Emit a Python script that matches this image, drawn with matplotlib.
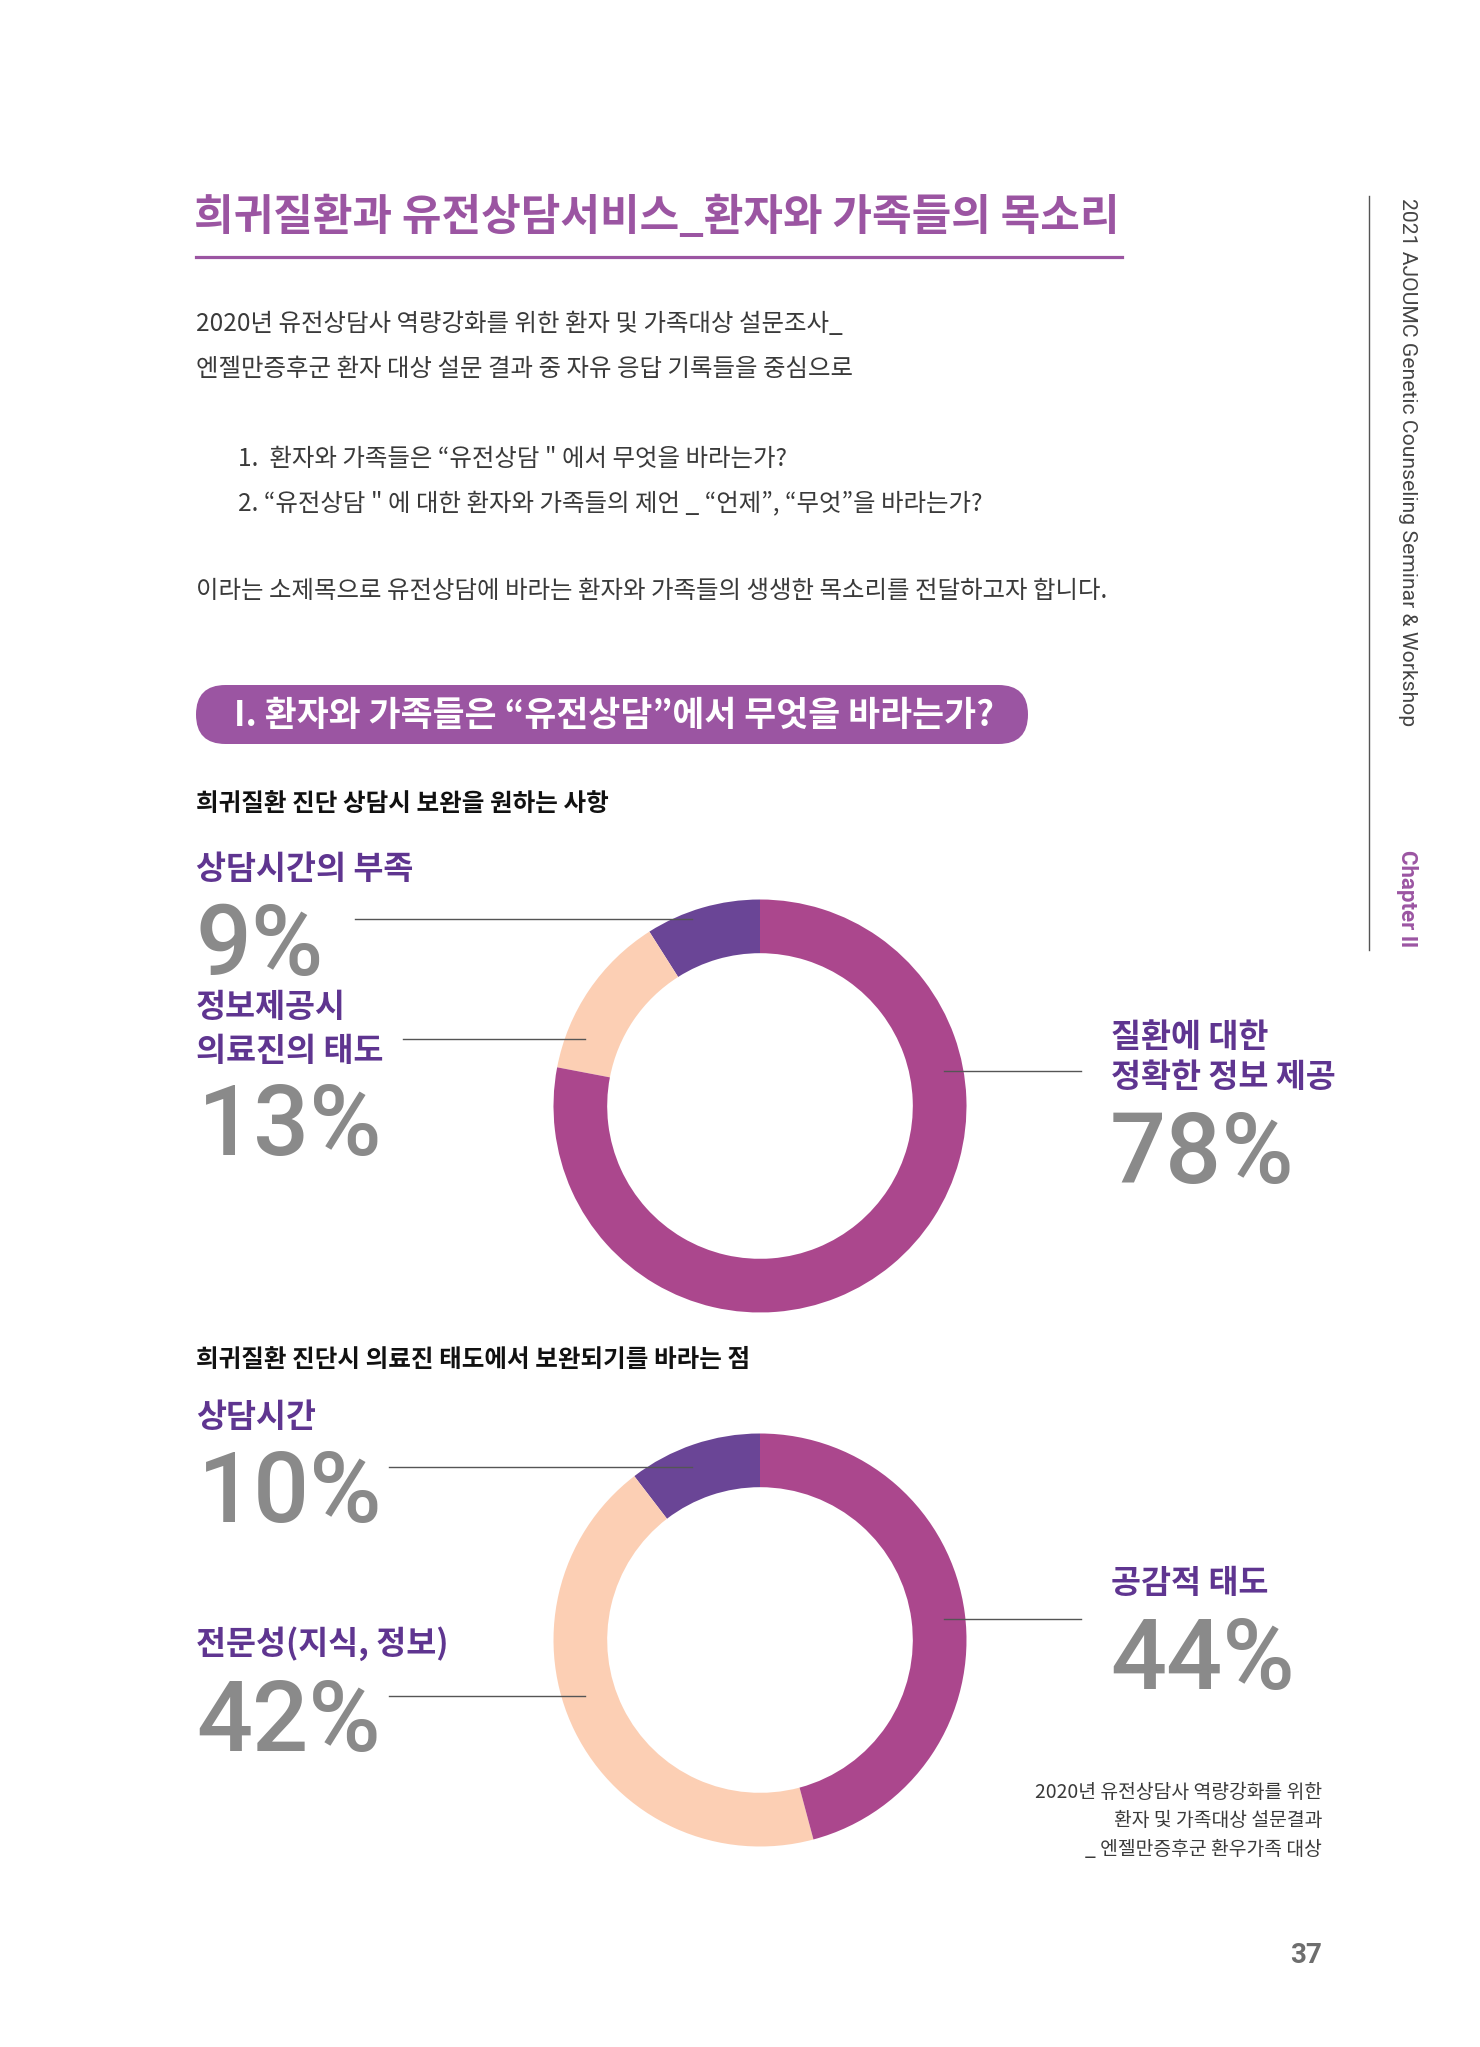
import matplotlib
matplotlib.use('Agg')
import matplotlib.pyplot as plt
from matplotlib.patches import FancyBboxPatch

plt.rcParams['font.family'] = ['Noto Sans CJK KR', 'DejaVu Sans']

# chart data
q1_title = '희귀질환 진단 상담시 보완을 원하는 사항'
q1_labels = ['상담시간의 부족', '정보제공시\n의료진의 태도', '질환에 대한\n정확한 정보 제공']
q1_values = [9, 13, 78]

q2_title = '희귀질환 진단시 의료진 태도에서 보완되기를 바라는 점'
q2_labels = ['상담시간', '전문성(지식, 정보)', '공감적 태도']
q2_values = [10, 42, 44]

ring_colors = ['#6a4596', '#fccfb4', '#ab478d']

page_title = '희귀질환과 유전상담서비스_환자와 가족들의 목소리'
intro_lines = ['2020년 유전상담사 역량강화를 위한 환자 및 가족대상 설문조사_',
               '엔젤만증후군 환자 대상 설문 결과 중 자유 응답 기록들을 중심으로']
item_lines = ['1.  환자와 가족들은 “유전상담 " 에서 무엇을 바라는가?',
              '2. “유전상담 " 에 대한 환자와 가족들의 제언 _ “언제”, “무엇”을 바라는가?']
outro_line = '이라는 소제목으로 유전상담에 바라는 환자와 가족들의 생생한 목소리를 전달하고자 합니다.'
section_title = 'I. 환자와 가족들은 “유전상담”에서 무엇을 바라는가?'
source_lines = ['2020년 유전상담사 역량강화를 위한', '환자 및 가족대상 설문결과', '_ 엔젤만증후군 환우가족 대상']
side_text = '2021 AJOUMC Genetic Counseling Seminar & Workshop'
chapter_text = 'Chapter Ⅱ'
page_no = '37'

W, H = 1480, 2047
fig = plt.figure(figsize=(W / 100, H / 100), dpi=100)

purple = '#9b55a2'
label_purple = '#5f3590'
pct_gray = '#8a8a8a'
body = '#3a3a3a'
pct_font = ['Roboto', 'DejaVu Sans']


def donut(cx, cy, r, values):
    ax = fig.add_axes([(cx - r) / W, (H - cy - r) / H, 2 * r / W, 2 * r / H])
    ax.pie(values, colors=ring_colors, startangle=90, counterclock=True,
           wedgeprops=dict(width=0.26, linewidth=0))
    ax.set_xlim(-1, 1)
    ax.set_ylim(-1, 1)
    ax.set_aspect('equal')
    ax.axis('off')
    return ax


donut(760, 1106, 206.5, q1_values)
donut(760, 1640, 206.5, q2_values)

# overlay in page pixel coordinates
ov = fig.add_axes([0, 0, 1, 1])
ov.set_xlim(0, W)
ov.set_ylim(H, 0)
ov.axis('off')
ov.patch.set_alpha(0)

# header
ov.text(194, 217, page_title, fontsize=31, color=purple, weight='bold', va='center')
ov.plot([196, 1122], [257, 257], color=purple, lw=2.3)

for i, s in enumerate(intro_lines):
    ov.text(196, 324 + 45 * i, s, fontsize=17.6, color=body, va='center')
for i, s in enumerate(item_lines):
    ov.text(238, 459 + 45 * i, s, fontsize=17.6, color=body, va='center')
ov.text(196, 591, outro_line, fontsize=17.6, color=body, va='center')

# section pill
ov.add_patch(FancyBboxPatch((196, 685), 832, 59, boxstyle='round,pad=0,rounding_size=29.5',
                            facecolor=purple, edgecolor='none'))
ov.text(234, 715, section_title, fontsize=25, color='white', weight='bold', va='center')

# side bar
ov.plot([1369, 1369], [196, 950], color='#555555', lw=1)
ov.text(1407, 198, side_text, rotation=-90, fontsize=15.2, color='#444444',
        family=['Roboto', 'DejaVu Sans'], ha='center', va='top')
ov.text(1407, 850, chapter_text, rotation=-90, fontsize=16, color=purple, weight='bold',
        family=['Roboto', 'Noto Sans CJK KR'], ha='center', va='top')


def label(x, y, text, step=43):
    for k, line in enumerate(text.split('\n')):
        ov.text(x, y + step * k, line, fontsize=23.5, color=label_purple, weight='bold', va='center')


def pct(x, y, v):
    ov.text(x, y, f'{v}%', fontsize=71, color=pct_gray, family=pct_font, weight='medium',
            va='baseline')


def leader(x0, x1, y):
    ov.plot([x0, x1], [y, y], color='#555555', lw=1, zorder=5)


# chart 1
ov.text(196, 804, q1_title, fontsize=17.7, color='#111111', weight='bold', va='center')
label(196, 870, q1_labels[0])
pct(196, 975, q1_values[0])
leader(355, 692, 919)
label(196, 1008, q1_labels[1])
pct(198, 1155, q1_values[1])
leader(403, 585, 1039)
label(1111, 1037, q1_labels[2], step=41)
pct(1110, 1183, q1_values[2])
leader(944, 1081, 1071)

# chart 2
ov.text(196, 1360, q2_title, fontsize=17.7, color='#111111', weight='bold', va='center')
label(196, 1418, q2_labels[0])
pct(198, 1522, q2_values[0])
leader(389, 692, 1467)
label(196, 1644, q2_labels[1])
pct(196, 1751, q2_values[1])
leader(389, 585, 1696)
label(1111, 1584, q2_labels[2])
pct(1110, 1689, q2_values[2])
leader(944, 1081, 1619)

# source note and page number
for i, s in enumerate(source_lines):
    ov.text(1322, 1793 + 28 * i, s, fontsize=13.9, color=body, ha='right', va='center')
ov.text(1322, 1963, page_no, fontsize=20, color='#6e6e6e', weight='bold',
        family=['Roboto', 'DejaVu Sans'], ha='right', va='baseline')

fig.savefig('out.png', dpi=100, facecolor='white')
